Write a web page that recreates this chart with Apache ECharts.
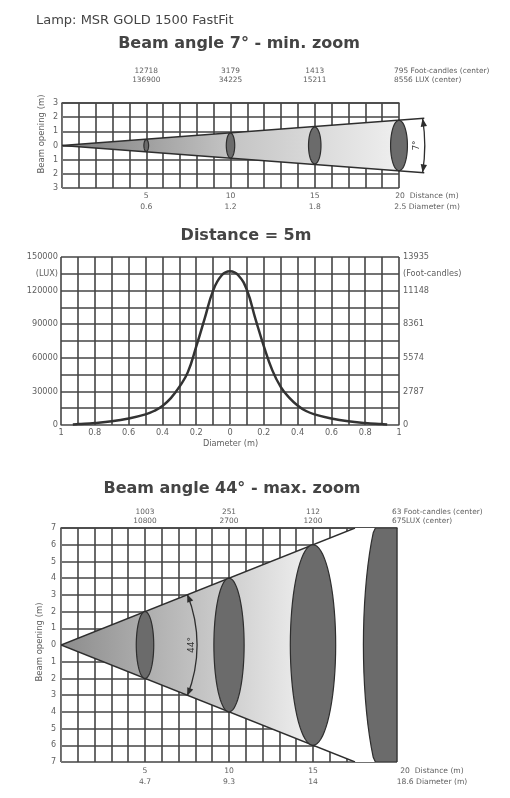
<!DOCTYPE html>
<html><head><meta charset="utf-8">
<script src="https://cdn.jsdelivr.net/npm/echarts/dist/echarts.min.js"></script>
<style>html,body{margin:0;padding:0;background:#fff}#c{width:510px;height:798px}</style>
</head><body><div id="c"></div>
<script>
// ---------------- data ----------------
const lampTitle = 'Lamp: MSR GOLD 1500 FastFit';
const title7 = 'Beam angle 7° - min. zoom';
const titleDist = 'Distance = 5m';
const title44 = 'Beam angle 44° - max. zoom';

const distances = [5, 10, 15, 20];

// 7° beam
const diam7 = ['0.6', '1.2', '1.8', '2.5'];
const fc7 = ['12718', '3179', '1413', '795'];
const lux7 = ['136900', '34225', '15211', '8556'];
const ellipseHalfH7 = [0.42, 0.88, 1.3, 1.78];
const ellipseHalfW7 = [0.14, 0.25, 0.37, 0.5];
const coneEdge7 = [21.5, 1.92];
const arc7 = [21.4, 1.905, 0.26];   // x, half-height, bulge
const angle7 = '7°';

// 44° beam
const diam44 = ['4.7', '9.3', '14', '18.6'];
const fc44 = ['1003', '251', '112', '63'];
const lux44 = ['10800', '2700', '1200', '675'];
const ellipseHalfH44 = [2, 4, 6, 9.5];
const ellipseHalfW44 = [0.52, 0.9, 1.35, 2.0];
const coneEdge44 = [17.5, 7];
const arc44Radius = 8.1;
const halfAngle44 = 22;
const angle44 = '44°';

// light profile at 5 m
const profileX = [-0.93, -0.9, -0.8, -0.7, -0.6, -0.5, -0.45, -0.4, -0.35, -0.3, -0.25, -0.2, -0.15, -0.1, -0.05, 0,
                  0.05, 0.1, 0.15, 0.2, 0.25, 0.3, 0.35, 0.4, 0.45, 0.5, 0.6, 0.7, 0.8, 0.9, 0.93];
const profileLux = [500, 800, 1800, 3300, 5800, 9500, 12500, 17000, 24000, 34000, 47000, 70000, 95000, 120000, 133500, 137200,
                    133500, 120500, 95000, 70500, 49000, 34000, 24500, 17500, 12500, 9500, 5800, 3300, 1800, 800, 500];
const luxTickValues = [0, 30000, 60000, 90000, 120000, 135000, 150000];
const luxTickText = ['0', '30000', '60000', '90000', '120000', '(LUX)', '150000'];
const fcTickText = ['0', '2787', '5574', '8361', '11148', '(Foot-candles)', '13935'];

// ---------------- layout ----------------
const FONT = "'DejaVu Sans', Verdana, sans-serif";
const G0 = {left: 62, top: 103, width: 337, height: 85};
const G1 = {left: 61, top: 257, width: 338, height: 168};
const G2 = {left: 61, top: 528, width: 336, height: 234};
const GRID_LINE = {show: true, lineStyle: {color: '#444', width: 1.6}};
const LBL = '#606060';

const chart = echarts.init(document.getElementById('c'), null, {renderer: 'canvas', width: 510, height: 798});

function distLabel(arrA, arrB) {
  return v => { const i = distances.indexOf(v); return (i < 0 || i === 3) ? '' : arrA[i] + '\n' + arrB[i]; };
}
function ellipsePoints(api, d, hh, hw, yLim, xLim) {
  const pts = [];
  for (let k = 0; k <= 72; k++) {
    const t = k / 72 * Math.PI * 2;
    let x = d + hw * Math.cos(t), y = hh * Math.sin(t);
    if (yLim != null) y = Math.max(-yLim, Math.min(yLim, y));
    if (xLim != null) x = Math.min(xLim, x);
    pts.push(api.coord([x, y]));
  }
  return pts;
}
function arrowHead(tip, dir, len, hw, color) {
  const n = Math.hypot(dir[0], dir[1]); const ux = dir[0] / n, uy = dir[1] / n;
  const bx = tip[0] - ux * len, by = tip[1] - uy * len;
  return {type: 'polygon', shape: {points: [tip, [bx - uy * hw, by + ux * hw], [bx + uy * hw, by - ux * hw]]}, style: {fill: color}};
}
const ELL_FILL = '#6b6b6b', ELL_STROKE = '#2e2e2e';

const option = {
  backgroundColor: '#fff',
  animation: false,
  textStyle: {fontFamily: FONT},
  grid: [G0, G1, G2],
  xAxis: [
    {gridIndex: 0, type: 'value', min: 0, max: 20, interval: 1, position: 'bottom',
      axisLine: {show: true, lineStyle: {color: '#777', width: 1}}, axisTick: {show: false}, splitLine: GRID_LINE,
      axisLabel: {formatter: distLabel(distances.map(String), diam7), fontSize: 7.6, lineHeight: 10.5, color: LBL, margin: 3, fontFamily: FONT}},
    {gridIndex: 0, type: 'value', min: 0, max: 20, interval: 1, position: 'top',
      axisLine: {show: true, lineStyle: {color: '#444', width: 1.6}}, axisTick: {show: false}, splitLine: {show: false},
      axisLabel: {formatter: distLabel(fc7, lux7), fontSize: 7.4, lineHeight: 9, color: LBL, margin: 18, fontFamily: FONT}},
    {gridIndex: 1, type: 'value', min: -1, max: 1, interval: 0.1,
      axisLine: {show: true, lineStyle: {color: '#777', width: 1}}, axisTick: {show: false}, splitLine: GRID_LINE,
      axisLabel: {formatter: v => { const k = Math.round(v * 10); return k % 2 === 0 ? String(Math.abs(k / 10)) : ''; },
        showMinLabel: true, showMaxLabel: true, fontSize: 8.2, color: LBL, margin: 4, fontFamily: FONT}},
    {gridIndex: 2, type: 'value', min: 0, max: 20, interval: 1, position: 'bottom',
      axisLine: {show: true, lineStyle: {color: '#777', width: 1}}, axisTick: {show: false}, splitLine: GRID_LINE,
      axisLabel: {formatter: distLabel(distances.map(String), diam44), fontSize: 7.6, lineHeight: 10.5, color: LBL, margin: 4, fontFamily: FONT}},
    {gridIndex: 2, type: 'value', min: 0, max: 20, interval: 1, position: 'top',
      axisLine: {show: true, lineStyle: {color: '#444', width: 1.6}}, axisTick: {show: false}, splitLine: {show: false},
      axisLabel: {formatter: distLabel(fc44, lux44), fontSize: 7.4, lineHeight: 8.5, color: LBL, margin: 3, fontFamily: FONT}}
  ],
  yAxis: [
    {gridIndex: 0, type: 'value', min: -3, max: 3, interval: 1,
      axisLine: {show: true, lineStyle: {color: '#777', width: 1}}, axisTick: {show: false}, splitLine: GRID_LINE,
      axisLabel: {formatter: v => String(Math.abs(v)), fontSize: 8, color: LBL, margin: 4, fontFamily: FONT}},
    {gridIndex: 1, type: 'value', min: 0, max: 150000, interval: 15000,
      axisLine: {show: true, lineStyle: {color: '#777', width: 1}}, axisTick: {show: false}, splitLine: GRID_LINE,
      axisLabel: {formatter: v => { const i = luxTickValues.indexOf(v); return i < 0 ? '' : luxTickText[i]; },
        fontSize: 8.2, color: LBL, margin: 3, fontFamily: FONT}},
    {gridIndex: 1, type: 'value', min: 0, max: 150000, interval: 15000, position: 'right',
      axisLine: {show: false}, axisTick: {show: false}, splitLine: {show: false},
      axisLabel: {formatter: v => { const i = luxTickValues.indexOf(v); return i < 0 ? '' : fcTickText[i]; },
        fontSize: 8.2, color: LBL, margin: 4, fontFamily: FONT}},
    {gridIndex: 2, type: 'value', min: -7, max: 7, interval: 1,
      axisLine: {show: true, lineStyle: {color: '#777', width: 1}}, axisTick: {show: false}, splitLine: GRID_LINE,
      axisLabel: {formatter: v => String(Math.abs(v)), fontSize: 8, color: LBL, margin: 5, fontFamily: FONT}}
  ],
  series: [
    // 7° cone
    {type: 'custom', xAxisIndex: 0, yAxisIndex: 0, clip: false, data: [[0, 0]],
      renderItem: (params, api) => {
        const d = distances[3], h = ellipseHalfH7[3];
        const o = api.coord([0, 0]), t = api.coord([d, h]), b = api.coord([d, -h]);
        const grad = new echarts.graphic.LinearGradient(o[0], 0, t[0], 0,
          [{offset: 0, color: '#7a7a7a'}, {offset: 0.5, color: '#c4c4c4'}, {offset: 1, color: '#efefef'}], true);
        const e1 = api.coord([coneEdge7[0], coneEdge7[1]]), e2 = api.coord([coneEdge7[0], -coneEdge7[1]]);
        const a1 = api.coord([arc7[0], arc7[1]]), a2 = api.coord([arc7[0], -arc7[1]]);
        const cp = api.coord([arc7[0] + arc7[2], 0]);
        const mid = api.coord([arc7[0], 0]);
        return {type: 'group', children: [
          {type: 'polygon', shape: {points: [o, t, b]}, style: {fill: grad}},
          {type: 'line', shape: {x1: o[0], y1: o[1], x2: e1[0], y2: e1[1]}, style: {stroke: '#2e2e2e', lineWidth: 1.4}},
          {type: 'line', shape: {x1: o[0], y1: o[1], x2: e2[0], y2: e2[1]}, style: {stroke: '#2e2e2e', lineWidth: 1.4}},
          {type: 'bezierCurve', shape: {x1: a1[0], y1: a1[1], x2: a2[0], y2: a2[1], cpx1: cp[0], cpy1: cp[1]},
            style: {stroke: '#2e2e2e', lineWidth: 1.3, fill: null}},
          arrowHead(a1, [a1[0] - cp[0], a1[1] - cp[1]], 8, 3.2, '#2e2e2e'),
          arrowHead(a2, [a2[0] - cp[0], a2[1] - cp[1]], 8, 3.2, '#2e2e2e'),
          {type: 'text', x: mid[0] - 6, y: mid[1], rotation: Math.PI / 2,
            style: {text: angle7, font: '9px ' + FONT, fill: '#333', align: 'center', verticalAlign: 'middle'}}
        ]};
      }},
    // 7° ellipses
    {type: 'custom', xAxisIndex: 0, yAxisIndex: 0, clip: false,
      data: distances.map((d, i) => [d, ellipseHalfH7[i], ellipseHalfW7[i]]),
      renderItem: (params, api) => ({type: 'polygon',
        shape: {points: ellipsePoints(api, api.value(0), api.value(1), api.value(2))},
        style: {fill: ELL_FILL, stroke: ELL_STROKE, lineWidth: 1.2}})},
    // profile
    {type: 'line', xAxisIndex: 2, yAxisIndex: 1, symbol: 'none', smooth: 0.45,
      lineStyle: {color: '#333', width: 2.5},
      data: profileX.map((x, i) => [x, profileLux[i]])},
    // 44° cone
    {type: 'custom', xAxisIndex: 3, yAxisIndex: 3, clip: true, data: [[0, 0]],
      renderItem: (params, api) => {
        const o = api.coord([0, 0]);
        const t1 = api.coord([coneEdge44[0], coneEdge44[1]]), b1 = api.coord([coneEdge44[0], -coneEdge44[1]]);
        const t2 = api.coord([20, coneEdge44[1]]), b2 = api.coord([20, -coneEdge44[1]]);
        const x15 = api.coord([distances[2], 0])[0], x20 = t2[0];
        const f = (x15 - o[0]) / (x20 - o[0]);
        const grad = new echarts.graphic.LinearGradient(o[0], 0, x20, 0,
          [{offset: 0, color: '#8c8c8c'}, {offset: f * 0.45, color: '#b9b9b9'}, {offset: f, color: '#f0f0f0'},
           {offset: f + 0.001, color: '#ffffff'}, {offset: 1, color: '#ffffff'}], true);
        const sx = api.size([1, 0])[0], sy = api.size([0, 1])[1];
        const R = api.size([arc44Radius, 0])[0];
        const phi = Math.atan(Math.tan(halfAngle44 * Math.PI / 180) * sy / sx);
        const p1 = [o[0] + R * Math.cos(phi), o[1] - R * Math.sin(phi)];
        const p2 = [o[0] + R * Math.cos(phi), o[1] + R * Math.sin(phi)];
        return {type: 'group', children: [
          {type: 'polygon', shape: {points: [o, t1, t2, b2, b1]}, style: {fill: grad}},
          {type: 'line', shape: {x1: o[0], y1: o[1], x2: t1[0], y2: t1[1]}, style: {stroke: '#2e2e2e', lineWidth: 1.4}},
          {type: 'line', shape: {x1: o[0], y1: o[1], x2: b1[0], y2: b1[1]}, style: {stroke: '#2e2e2e', lineWidth: 1.4}},
          {type: 'arc', shape: {cx: o[0], cy: o[1], r: R, startAngle: -phi, endAngle: phi},
            style: {stroke: '#2e2e2e', lineWidth: 1.3, fill: null}},
          arrowHead(p1, [-Math.sin(phi), -Math.cos(phi)], 8, 3.2, '#2e2e2e'),
          arrowHead(p2, [-Math.sin(phi), Math.cos(phi)], 8, 3.2, '#2e2e2e'),
          {type: 'text', x: o[0] + R - 5, y: o[1], rotation: Math.PI / 2,
            style: {text: angle44, font: '9px ' + FONT, fill: '#333', align: 'center', verticalAlign: 'middle'}}
        ]};
      }},
    // 44° ellipses
    {type: 'custom', xAxisIndex: 3, yAxisIndex: 3, clip: true,
      data: distances.map((d, i) => [d, ellipseHalfH44[i], ellipseHalfW44[i]]),
      renderItem: (params, api) => ({type: 'polygon',
        shape: {points: ellipsePoints(api, api.value(0), api.value(1), api.value(2), 7, 20)},
        style: {fill: ELL_FILL, stroke: ELL_STROKE, lineWidth: 1.2}})}
  ],
  graphic: [
    {type: 'text', left: 36, top: 14.5, style: {text: lampTitle, font: '13px ' + FONT, fill: '#444'}},
    {type: 'text', x: 239, y: 44, style: {text: title7, font: 'bold 16px ' + FONT, fill: '#444', align: 'center', verticalAlign: 'middle'}},
    {type: 'text', x: 246, y: 235.5, style: {text: titleDist, font: 'bold 16px ' + FONT, fill: '#444', align: 'center', verticalAlign: 'middle'}},
    {type: 'text', x: 232, y: 489, style: {text: title44, font: 'bold 16px ' + FONT, fill: '#444', align: 'center', verticalAlign: 'middle'}},
    // top panel side texts
    {type: 'text', x: 394, y: 66.5, style: {text: fc7[3] + ' Foot-candles (center)\n' + lux7[3] + ' LUX (center)',
      font: '7.4px ' + FONT, fill: LBL, lineHeight: 9, align: 'left', verticalAlign: 'top'}},
    {type: 'text', x: 427, y: 191, style: {text: distances[3] + '  Distance (m)\n' + diam7[3] + ' Diameter (m)',
      font: '7.6px ' + FONT, fill: LBL, lineHeight: 10.5, align: 'center', verticalAlign: 'top'}},
    {type: 'text', x: 42, y: 134, rotation: Math.PI / 2, style: {text: 'Beam opening (m)', font: '8.5px ' + FONT, fill: LBL, align: 'center', verticalAlign: 'middle'}},
    // middle
    {type: 'text', x: 230.5, y: 444, style: {text: 'Diameter (m)', font: '8.2px ' + FONT, fill: LBL, align: 'center', verticalAlign: 'middle'}},
    // bottom panel side texts
    {type: 'text', x: 392, y: 508, style: {text: fc44[3] + ' Foot-candles (center)\n' + lux44[3] + 'LUX (center)',
      font: '7.4px ' + FONT, fill: LBL, lineHeight: 8.5, align: 'left', verticalAlign: 'top'}},
    {type: 'text', x: 432, y: 766, style: {text: distances[3] + '  Distance (m)\n' + diam44[3] + ' Diameter (m)',
      font: '7.6px ' + FONT, fill: LBL, lineHeight: 10.5, align: 'center', verticalAlign: 'top'}},
    {type: 'text', x: 39.5, y: 642, rotation: Math.PI / 2, style: {text: 'Beam opening (m)', font: '8.5px ' + FONT, fill: LBL, align: 'center', verticalAlign: 'middle'}}
  ]
};
chart.setOption(option);
</script>
</body></html>
